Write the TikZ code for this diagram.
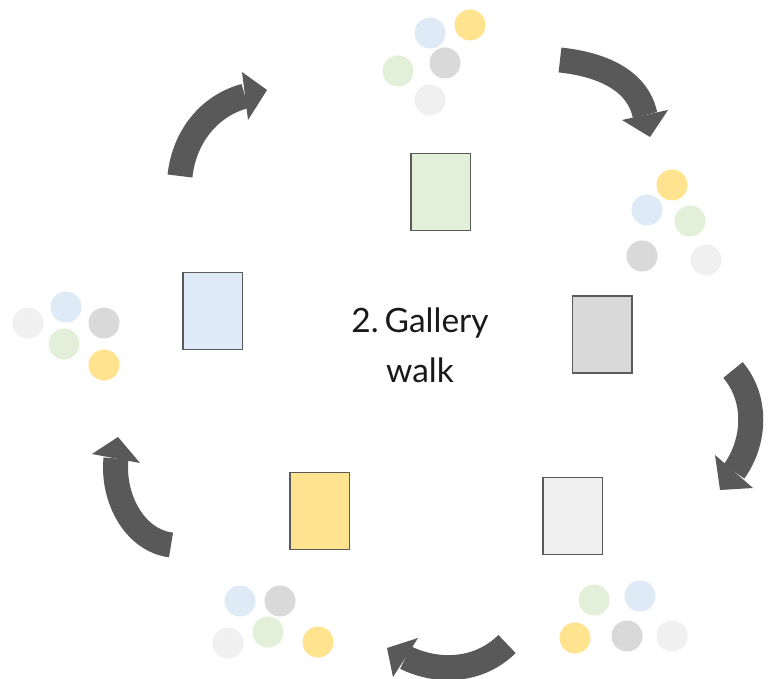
\documentclass[tikz,border=0pt]{standalone}
\usepackage{fontspec}
\setmainfont{Lato}
\definecolor{arrowgray}{HTML}{595959}
\definecolor{edgegray}{HTML}{5A5A5A}
\definecolor{cgreen}{HTML}{E2EFD9}
\definecolor{cblue}{HTML}{DEEAF6}
\definecolor{cgray}{HTML}{D9D9D9}
\definecolor{clight}{HTML}{F0F0F0}
\definecolor{cyellow}{HTML}{FFE38F}
\tikzset{
  sheet/.style={draw=edgegray, line width=1.5pt, minimum width=59.5pt, minimum height=77pt, inner sep=0pt},
  dot/.style={circle, minimum size=31pt, inner sep=0pt, draw=none},
  arrowbody/.style={draw=arrowgray, line width=25pt, line cap=butt},
  arrowhead/.style={fill=arrowgray},
  caption/.style={font=\fontsize{33.5}{49}\selectfont, text=black!90, anchor=base, inner sep=0pt}
}
\begin{document}
\begin{tikzpicture}[x=1pt, y=-1pt]
\useasboundingbox[fill=white] (0,0) rectangle (769,679);

% sheets
\node[sheet, fill=cgreen]  (sgreen)  at (440.5,192) {};
\node[sheet, fill=cblue]   (sblue)   at (212.5,311) {};
\node[sheet, fill=cgray]   (sgray)   at (602,334.5) {};
\node[sheet, fill=clight]  (slight)  at (572.5,516) {};
\node[sheet, fill=cyellow] (syellow) at (319.5,511) {};

% caption
\node[caption] (cap1) at (420,333) {2.\hspace{0.18em}Gallery};
\node[caption] (cap2) at (420,382) {walk};

% clusters of dots
% top
\node[dot, fill=cblue]   (t1) at (430,33) {};
\node[dot, fill=cyellow] (t2) at (470,25) {};
\node[dot, fill=cgray]   (t3) at (445,63) {};
\node[dot, fill=cgreen]  (t4) at (398,71) {};
\node[dot, fill=clight]  (t5) at (430,100) {};
% right
\node[dot, fill=cyellow] (r1) at (672,185) {};
\node[dot, fill=cblue]   (r2) at (647,210) {};
\node[dot, fill=cgreen]  (r3) at (690,221) {};
\node[dot, fill=cgray]   (r4) at (642,256) {};
\node[dot, fill=clight]  (r5) at (706,260) {};
% left
\node[dot, fill=clight]  (l1) at (28,323) {};
\node[dot, fill=cblue]   (l2) at (66,307) {};
\node[dot, fill=cgray]   (l3) at (104,323) {};
\node[dot, fill=cgreen]  (l4) at (64,344) {};
\node[dot, fill=cyellow] (l5) at (104,365) {};
% bottom left
\node[dot, fill=cblue]   (bl1) at (240,601) {};
\node[dot, fill=cgray]   (bl2) at (280,601) {};
\node[dot, fill=clight]  (bl3) at (228,643) {};
\node[dot, fill=cgreen]  (bl4) at (268,632) {};
\node[dot, fill=cyellow] (bl5) at (318,642) {};
% bottom right
\node[dot, fill=cgreen]  (br1) at (594,600) {};
\node[dot, fill=cblue]   (br2) at (640,596) {};
\node[dot, fill=cyellow] (br3) at (575,638) {};
\node[dot, fill=cgray]   (br4) at (627,636) {};
\node[dot, fill=clight]  (br5) at (672,636) {};

% arrows: coordinates
% top right
\coordinate (aT1) at (560,60);  \coordinate (aC11) at (598,64);  \coordinate (aC12) at (637,78);  \coordinate (aB1) at (645,115);
\coordinate (aW11) at (622,120); \coordinate (aP1) at (650,137); \coordinate (aW12) at (668,110);
% right
\coordinate (aT2) at (733,370); \coordinate (aC21) at (757,398); \coordinate (aC22) at (756,441); \coordinate (aB2) at (734,471.5);
\coordinate (aW21) at (715,455); \coordinate (aP2) at (720,490); \coordinate (aW22) at (753,488);
% bottom
\coordinate (aT3) at (507,644); \coordinate (aC31) at (480,671); \coordinate (aC32) at (439,674); \coordinate (aB3) at (405.5,657.5);
\coordinate (aW31) at (418,638); \coordinate (aP3) at (387,648); \coordinate (aW32) at (393,677);
% bottom left
\coordinate (aT4) at (171,545); \coordinate (aC41) at (133,540); \coordinate (aC42) at (112,496); \coordinate (aB4) at (116,458.5);
\coordinate (aW41) at (92,454); \coordinate (aP4) at (118,437); \coordinate (aW42) at (140,463);
% top left
\coordinate (aT5) at (180,176); \coordinate (aC51) at (184,138); \coordinate (aC52) at (208,106); \coordinate (aB5) at (245,96);
\coordinate (aW51) at (242,72); \coordinate (aP5) at (267,90); \coordinate (aW52) at (248,120);

\foreach \i in {1,...,5}{
  \draw[arrowbody] (aT\i) .. controls (aC\i1) and (aC\i2) .. (aB\i);
  \fill[arrowhead] (aW\i1) -- (aP\i) -- (aW\i2) -- cycle;
}
\end{tikzpicture}
\end{document}
